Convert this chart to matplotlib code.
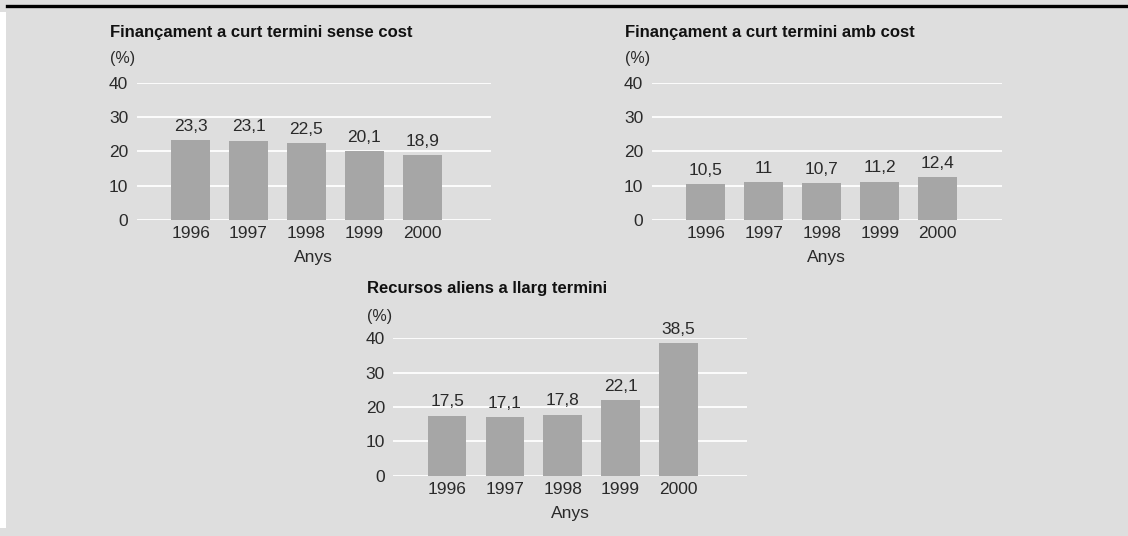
import matplotlib
matplotlib.use("Agg")
import matplotlib.pyplot as plt
from matplotlib.lines import Line2D
from matplotlib.patches import Rectangle

years = ["1996", "1997", "1998", "1999", "2000"]
sense_cost = [23.3, 23.1, 22.5, 20.1, 18.9]
amb_cost = [10.5, 11.0, 10.7, 11.2, 12.4]
llarg_termini = [17.5, 17.1, 17.8, 22.1, 38.5]
labels_sense = ["23,3", "23,1", "22,5", "20,1", "18,9"]
labels_amb = ["10,5", "11", "10,7", "11,2", "12,4"]
labels_llarg = ["17,5", "17,1", "17,8", "22,1", "38,5"]
titles = ["Finançament a curt termini sense cost",
          "Finançament a curt termini amb cost",
          "Recursos aliens a llarg termini"]
yticks = [0, 10, 20, 30, 40]

W, H = 1128, 536
BG = "#dedede"
BAR = "#a6a6a6"
TXT = "#2a2a2a"
plt.rcParams['font.family'] = ['Liberation Sans', 'DejaVu Sans']

fig = plt.figure(figsize=(W / 100, H / 100), dpi=100)
fig.patch.set_facecolor(BG)

# left white strip and top black rule
fig.add_artist(Rectangle((0, 8 / H), 6 / W, 1 - 20 / H, transform=fig.transFigure,
                         facecolor="white", edgecolor="none", zorder=0))
fig.add_artist(Line2D([7 / W, 1], [1 - 6 / H, 1 - 6 / H], transform=fig.transFigure,
                      color="black", linewidth=2.4))


def px(x, y):
    return x / W, 1 - y / H


def make_chart(x0, x1, y0, y40, values, labels, title, tx, ty, xlim_right):
    left, _ = px(x0, 0)
    width = (x1 - x0) / W
    bottom = 1 - y0 / H
    height = (y0 - y40) / H
    ax = fig.add_axes([left, bottom, width, height])
    ax.set_facecolor(BG)
    xs = list(range(len(years)))
    ax.bar(xs, values, width=0.67, color=BAR, zorder=3)
    ax.set_xlim(-0.93, xlim_right)
    ax.set_ylim(0, 40)
    ax.set_yticks(yticks)
    ax.yaxis.grid(True, color="white", linewidth=1.3, zorder=1)
    ax.set_axisbelow(True)
    for s in ax.spines.values():
        s.set_visible(False)
    ax.set_xticks(xs)
    ax.set_xticklabels(years)
    ax.tick_params(axis="both", length=0, labelsize=12.5, colors=TXT)
    ax.tick_params(axis="y", pad=6)
    ax.tick_params(axis="x", pad=4.5)
    ax.set_xlabel("Anys", fontsize=12.5, color=TXT, labelpad=6.5)
    for x, v, lab in zip(xs, values, labels):
        ax.annotate(lab, (x, v), xytext=(0, 4.5), textcoords="offset points",
                    ha="center", va="bottom", fontsize=12.5, color=TXT,
                    annotation_clip=False)
    fig.text(*px(tx, ty), title, fontsize=12, fontweight="bold", color="#111111",
             ha="left", va="center")
    fig.text(*px(tx, ty + 27), "(%)", fontsize=11.5, color=TXT, ha="left", va="center")
    return ax


make_chart(136.7, 490.7, 220, 82.7, sense_cost, labels_sense, titles[0], 110, 32, 5.18)
make_chart(651.7, 1001.7, 220, 82.7, amb_cost, labels_amb, titles[1], 625, 32, 5.1)
make_chart(393.3, 746.7, 475.7, 338.3, llarg_termini, labels_llarg, titles[2], 367, 289, 5.18)

fig.savefig("out.png", dpi=100, facecolor=BG)
